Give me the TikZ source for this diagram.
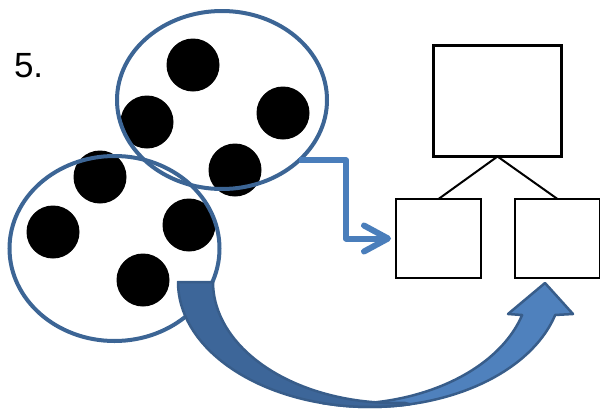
\documentclass[tikz,border=0pt]{standalone}
\usepackage{fontspec}
\setmainfont{Liberation Sans}
\usetikzlibrary{shapes.geometric,arrows.meta}
\definecolor{r60g101b149}{rgb}{0.235294,0.396078,0.584314}%
\definecolor{r74g126b187}{rgb}{0.290196,0.494118,0.733333}%
\definecolor{r79g129b189}{rgb}{0.309804,0.505882,0.741176}%
\definecolor{r61g102b153}{rgb}{0.239216,0.400000,0.600000}%
\definecolor{r56g93b138}{rgb}{0.219608,0.364706,0.541176}%
\begin{document}
\begin{tikzpicture}[x=1pt,y=-1pt,
    dot/.style={circle,fill=black,inner sep=0pt,minimum size=53pt},
    group/.style={ellipse,draw=r60g101b149,line width=4pt,inner sep=0pt,outer sep=0pt},
    box/.style={rectangle,draw=black,inner sep=0pt,outer sep=0pt}]
  \useasboundingbox (0,0) rectangle (600,410);

  % Marking the number
  \node[anchor=base west,font=\fontsize{35}{40}\selectfont] (num) at (10.5,77) {5.};%

  % Marking dots
  \foreach \x/\y [count=\i] in {193/65,147/122,283/113,235/170,100/177,53/232,189/225,143/280}
    \node[dot] (d\i) at (\x,\y) {};%

  % Drawing the two groups
  \node[group,minimum width=210pt,minimum height=185pt] (lower) at (114.5,248.5) {};%
  \node[group,minimum width=210pt,minimum height=178pt] (upper) at (222,100) {};%

  % Drawing the boxes
  \node[box,line width=3.3pt,minimum width=128pt,minimum height=111pt] (root) at (497.5,101) {};%
  \node[box,line width=2.3pt,minimum width=85pt,minimum height=79pt] (left) at (438.5,238.5) {};%
  \node[box,line width=2.3pt,minimum width=85pt,minimum height=79pt] (right) at (557.5,238.5) {};%
  \draw[line width=2pt] (root.south) -- (left.north);%
  \draw[line width=2pt] (root.south) -- (right.north);%

  % Drawing elbow arrow upper -> left
  \draw[r74g126b187,line width=6pt,line join=round,
    -{Straight Barb[length=24pt,width=26pt,round]}]
    (upper.-38.5) -- ++(47,0) |- ([xshift=-5pt]left.west);%

  % Filling curved arrow lower -> right, front part
  \filldraw[fill=r79g129b189,draw=r56g93b138,line width=2.5pt,line join=round]
    plot[domain=100:15.3,samples=40] ({370+192*cos(\x)},{282+125*sin(\x)})
    -- (573,314) -- (545,283) -- (508,314) -- (522,315)
    -- plot[domain=15.7:97,samples=40] ({345+184*cos(\x)},{282+122*sin(\x)}) -- cycle;%

  % Filling curved arrow, back part
  \filldraw[fill=r61g102b153,draw=r56g93b138,line width=2.5pt,line join=round]
    plot[domain=180:78,samples=40] ({370+192*cos(\x)},{282+125*sin(\x)})
    -- plot[domain=87:180,samples=40] ({395+182*cos(\x)},{282+121*sin(\x)}) -- cycle;%
\end{tikzpicture}
\end{document}
